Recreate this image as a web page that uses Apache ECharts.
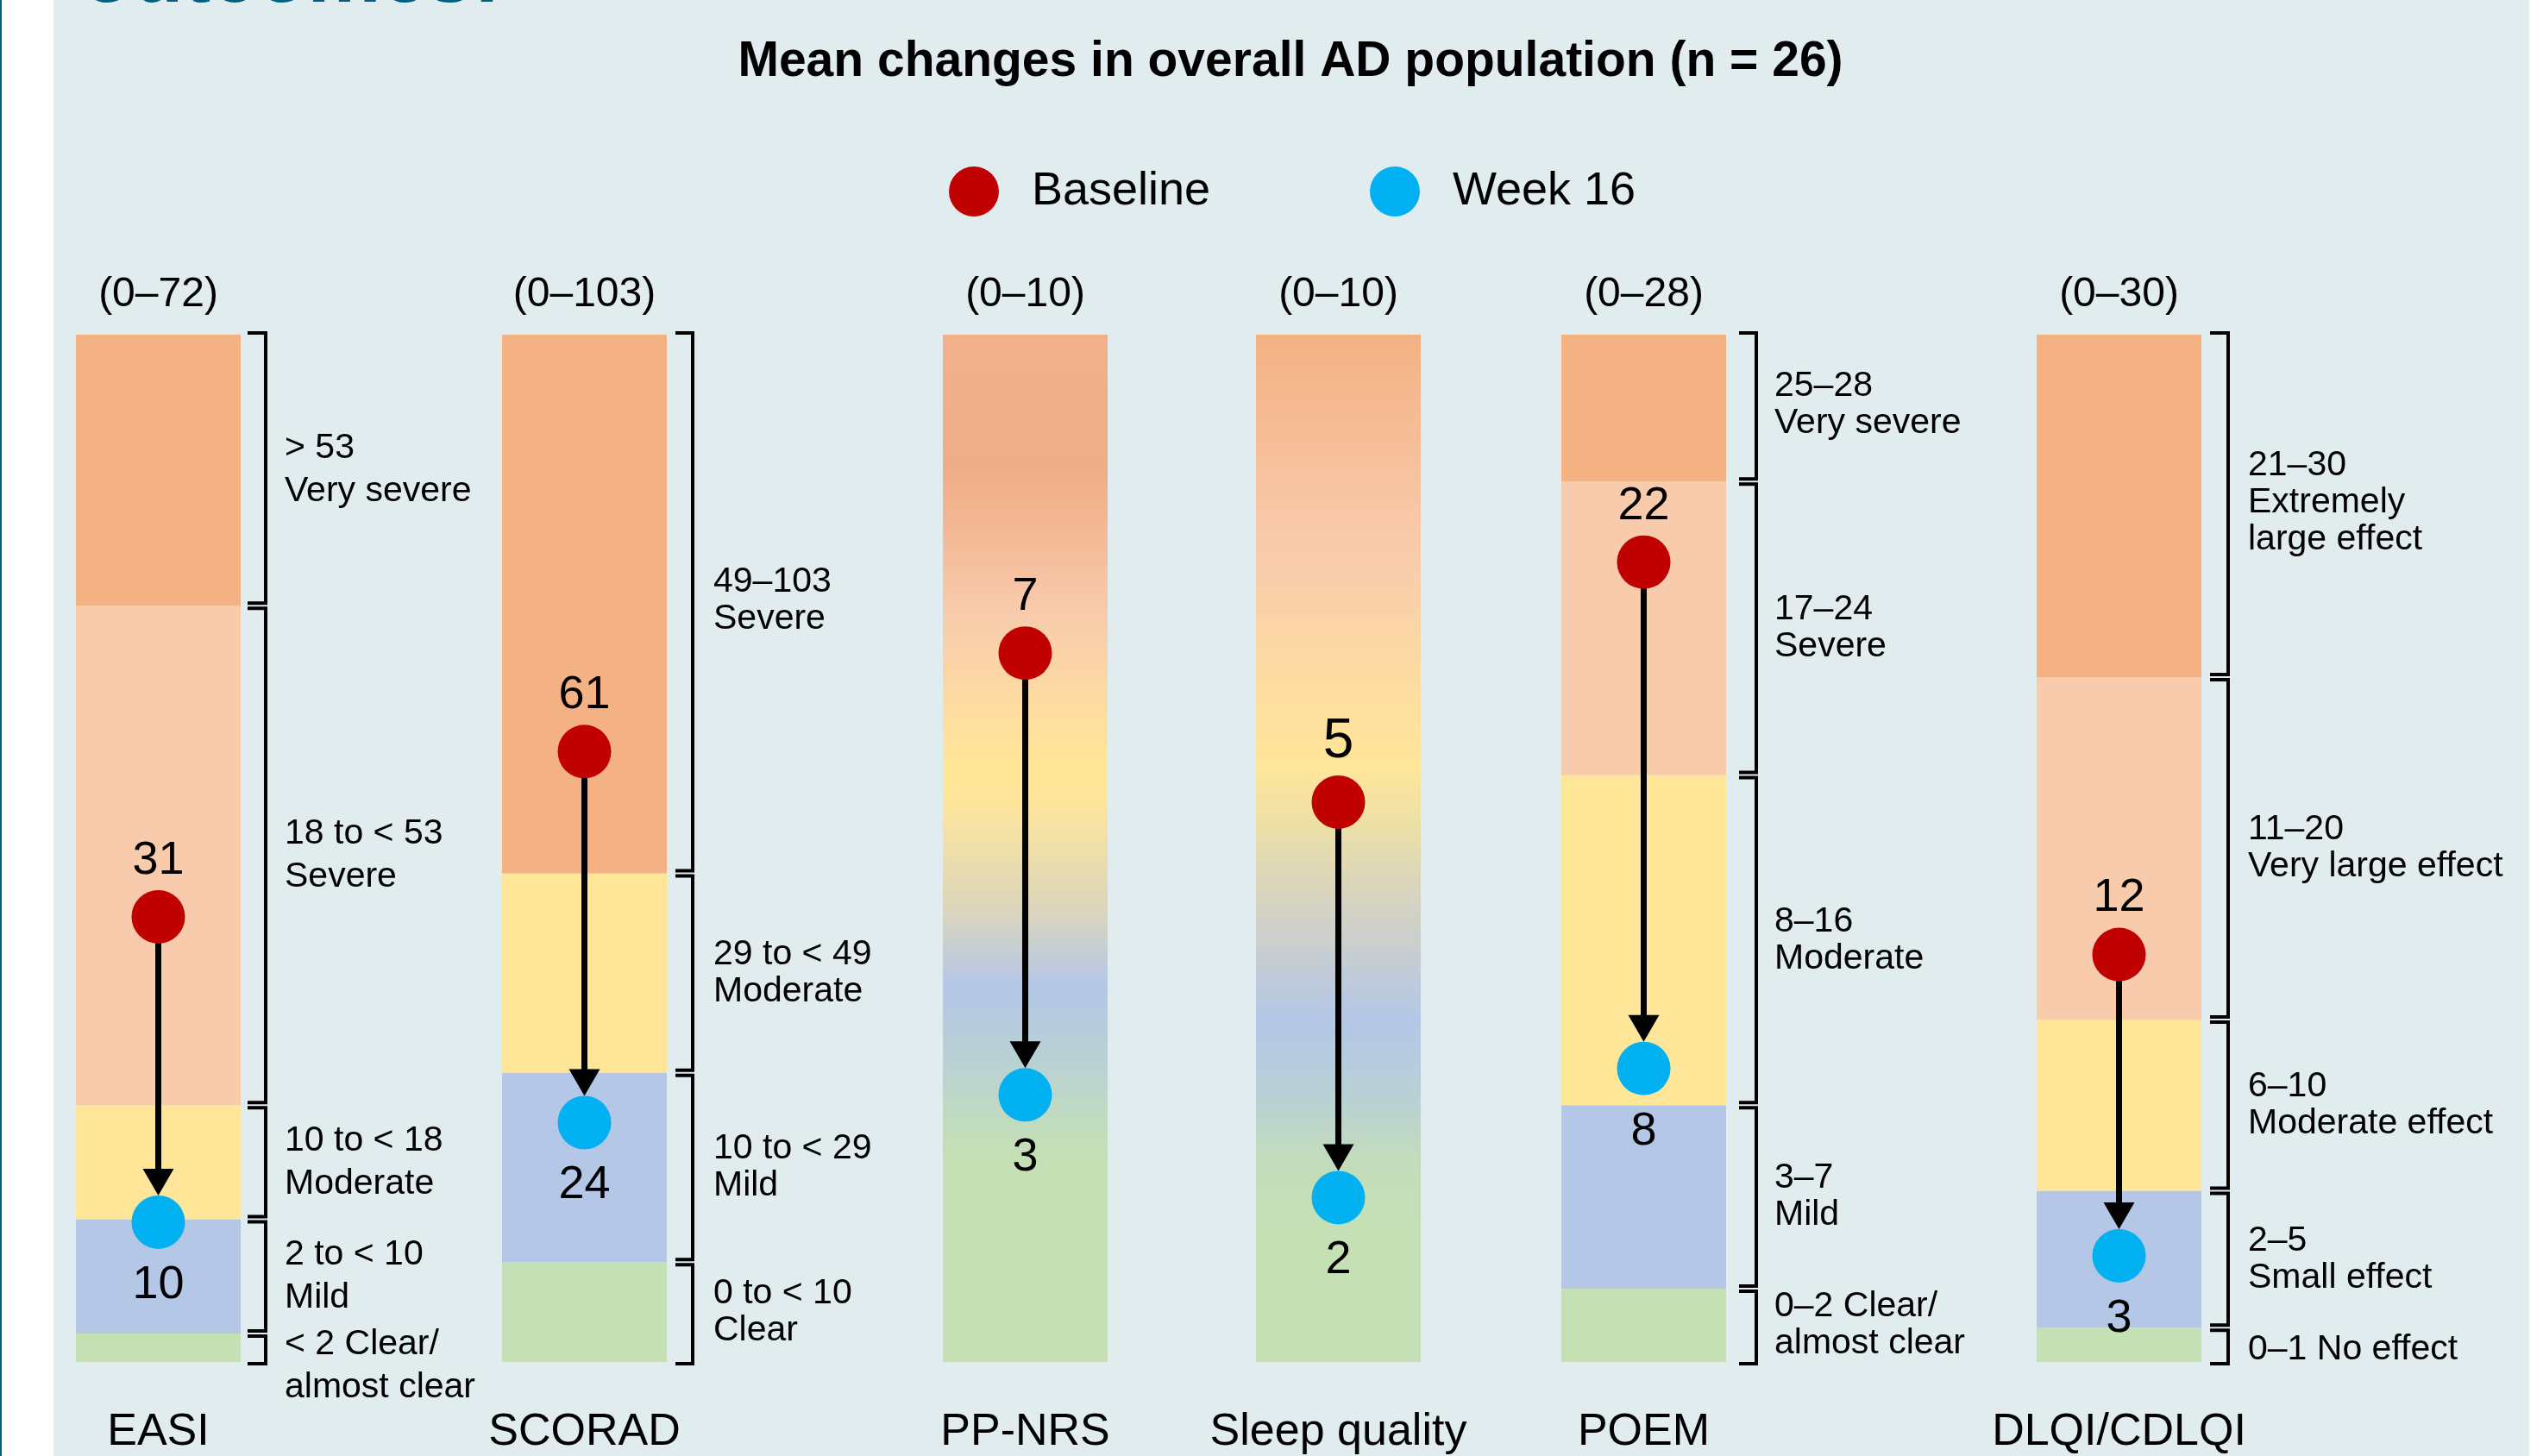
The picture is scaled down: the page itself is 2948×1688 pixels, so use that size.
<!DOCTYPE html>
<html>
<head>
<meta charset="utf-8">
<script src="https://cdn.jsdelivr.net/npm/echarts@6/dist/echarts.min.js"></script>
<style>html,body{margin:0;padding:0;background:#fff}#chart{width:2948px;height:1688px}</style>
</head>
<body>
<div id="chart"></div>
<script>
// ---------------- DATA ----------------
const titleText = 'Mean changes in overall AD population (n = 26)';
const legendNames = ['Baseline', 'Week 16'];
const categories = ['EASI', 'SCORAD', 'PP-NRS', 'Sleep quality', 'POEM', 'DLQI/CDLQI'];
const scaleMax = [72, 103, 10, 10, 28, 30];
const rangeLabels = ['(0–72)', '(0–103)', '(0–10)', '(0–10)', '(0–28)', '(0–30)'];
const baselineValues = [31.2, 61.2, 6.9, 5.45, 21.8, 11.9];
const week16Values = [9.8, 24.0, 2.6, 1.6, 8.0, 3.1];

const easiBands = [0, 2, 10, 18, 53, 72];
const scoradBands = [0, 10, 29, 49, 103];
const poemBands = [0, 2, 7, 16, 24, 28];
const dlqiBands = [0, 1, 5, 10, 20, 30];

const easiBandLabels = ['< 2 Clear/\nalmost clear', '2 to < 10\nMild', '10 to < 18\nModerate', '18 to < 53\nSevere', '> 53\nVery severe'];
const scoradBandLabels = ['0 to < 10\nClear', '10 to < 29\nMild', '29 to < 49\nModerate', '49–103\nSevere'];
const poemBandLabels = ['0–2 Clear/\nalmost clear', '3–7\nMild', '8–16\nModerate', '17–24\nSevere', '25–28\nVery severe'];
const dlqiBandLabels = ['0–1 No effect', '2–5\nSmall effect', '6–10\nModerate effect', '11–20\nVery large effect', '21–30\nExtremely\nlarge effect'];

const bandSets = [easiBands, scoradBands, null, null, poemBands, dlqiBands];
const bandLabelSets = [easiBandLabels, scoradBandLabels, null, null, poemBandLabels, dlqiBandLabels];

// ---------------- STYLE / LAYOUT ----------------
const FONT = '"Liberation Sans", Arial, Helvetica, sans-serif';
const BAND_COLORS = ['#c5e0b4', '#b4c7e7', '#ffe699', '#f8cbad', '#f4b183'];
const PP_GRAD = [
  {offset: 0, color: '#f2b08a'}, {offset: 0.13, color: '#efad87'}, {offset: 0.19, color: '#f3b894'},
  {offset: 0.27, color: '#f8cbad'}, {offset: 0.415, color: '#ffe699'}, {offset: 0.45, color: '#ffe699'},
  {offset: 0.557, color: '#dcd6bb'}, {offset: 0.635, color: '#b4c7e7'}, {offset: 0.70, color: '#b9d0d6'},
  {offset: 0.80, color: '#c5e0b4'}, {offset: 1, color: '#c5e0b4'}
];
const SLEEP_GRAD = [
  {offset: 0, color: '#f4b183'}, {offset: 0.21, color: '#f8cbad'}, {offset: 0.42, color: '#ffe699'},
  {offset: 0.48, color: '#ebdfa8'}, {offset: 0.557, color: '#d4d2c2'}, {offset: 0.667, color: '#b4c7e7'},
  {offset: 0.74, color: '#b9d0d6'}, {offset: 0.80, color: '#c2dcbc'}, {offset: 0.87, color: '#c5e0b4'},
  {offset: 1, color: '#c5e0b4'}
];
const GRID_TOP = 388, GRID_H = 1191, BAR_W = 191, MARKER = 62;
const COLS = [
  {left: 88,   levels: [0, 1, 2, 3, 4], tickDx: 8,  lineDx: 29, textDx: 51, lh: 50, baseSize: 54},
  {left: 582,  levels: [0, 1, 2, 4],    tickDx: 10, lineDx: 30, textDx: 54, lh: 43, baseSize: 54},
  {left: 1093, gradient: PP_GRAD, baseSize: 54},
  {left: 1456, gradient: SLEEP_GRAD, baseSize: 64},
  {left: 1810, levels: [0, 1, 2, 3, 4], tickDx: 15, lineDx: 35, textDx: 56, lh: 43, baseSize: 54},
  {left: 2361, levels: [0, 1, 2, 3, 4], tickDx: 10, lineDx: 31, textDx: 54, lh: 43, baseSize: 54}
];

function makeBandRenderer(i) {
  const c = COLS[i];
  return function (params, api) {
    const cs = params.coordSys;
    const lo = api.value(1), hi = api.value(2), k = api.value(3);
    const yTop = api.coord([0, hi])[1];
    const yBot = api.coord([0, lo])[1];
    const children = [];
    const fill = c.gradient ? new echarts.graphic.LinearGradient(0, 0, 0, 1, c.gradient) : BAND_COLORS[c.levels[k]];
    children.push({type: 'rect', shape: {x: cs.x, y: yTop, width: cs.width, height: yBot - yTop}, style: {fill: fill}});
    if (!c.gradient) {
      const n = bandSets[i].length - 1;
      const right = cs.x + cs.width;
      const t = k === n - 1 ? yTop - 2 : yTop + 3;
      const b = k === 0 ? yBot + 2 : yBot - 3;
      children.push({
        type: 'polyline',
        shape: {points: [[right + c.tickDx, t], [right + c.lineDx, t], [right + c.lineDx, b], [right + c.tickDx, b]]},
        style: {stroke: '#000', lineWidth: 4, fill: 'none', lineJoin: 'miter'}
      });
      const text = bandLabelSets[i][k];
      const nLines = text.split('\n').length;
      const h = nLines * c.lh;
      const bandH = yBot - yTop;
      let top;
      if (h > bandH) {
        top = Math.max((yTop + yBot) / 2 - h / 2, yTop - 12) + (nLines === 1 ? 6 : 0);
      } else {
        top = (yTop + yBot) / 2 - h / 2 - (k === n - 1 && c.lh < 50 ? 4 : 0);
      }
      children.push({
        type: 'text',
        style: {text: text, x: right + c.textDx, y: top + h / 2, fill: '#000', fontSize: 41, fontFamily: FONT,
                lineHeight: c.lh, align: 'left', verticalAlign: 'middle'}
      });
    }
    return {type: 'group', children: children};
  };
}

function arrowRenderer(params, api) {
  const p1 = api.coord([0, api.value(1)]);
  const p2 = api.coord([0, api.value(2)]);
  const tip = p2[1] - MARKER / 2;
  const headH = 31, headW = 36;
  return {type: 'group', children: [
    {type: 'line', shape: {x1: p1[0], y1: p1[1], x2: p2[0], y2: tip - headH + 1}, style: {stroke: '#000', lineWidth: 7}},
    {type: 'polygon', shape: {points: [[p2[0] - headW / 2, tip - headH], [p2[0] + headW / 2, tip - headH], [p2[0], tip]]}, style: {fill: '#000'}}
  ]};
}

const grid = [], xAxis = [], yAxis = [], series = [];
categories.forEach(function (cat, i) {
  const c = COLS[i];
  grid.push({left: c.left, top: GRID_TOP, width: BAR_W, height: GRID_H});
  xAxis.push({type: 'category', gridIndex: i, data: [cat], position: 'bottom',
    axisLine: {show: false}, axisTick: {show: false}, splitLine: {show: false},
    axisLabel: {fontSize: 52, lineHeight: 52, margin: 56, color: '#000', fontFamily: FONT}});
  xAxis.push({type: 'category', gridIndex: i, data: [rangeLabels[i]], position: 'top',
    axisLine: {show: false}, axisTick: {show: false}, splitLine: {show: false},
    axisLabel: {fontSize: 48, lineHeight: 48, margin: 22, color: '#000', fontFamily: FONT}});
  yAxis.push({type: 'value', gridIndex: i, min: 0, max: scaleMax[i], show: false});

  let bandData;
  if (bandSets[i]) {
    const b = bandSets[i];
    bandData = b.slice(0, -1).map(function (lo, k) { return [0, lo, b[k + 1], k]; });
  } else {
    bandData = [[0, 0, scaleMax[i], -1]];
  }
  series.push({type: 'custom', name: 'bands' + i, xAxisIndex: 2 * i, yAxisIndex: i, clip: false, silent: true, z: 1,
    encode: {x: 0, y: [1, 2]}, data: bandData, renderItem: makeBandRenderer(i)});
  series.push({type: 'custom', name: 'arrow' + i, xAxisIndex: 2 * i, yAxisIndex: i, clip: false, silent: true, z: 2,
    encode: {x: 0, y: [1, 2]}, data: [[0, baselineValues[i], week16Values[i]]], renderItem: arrowRenderer});
  series.push({type: 'scatter', name: legendNames[0], xAxisIndex: 2 * i, yAxisIndex: i, z: 3, silent: true,
    data: [[0, baselineValues[i]]], symbolSize: MARKER, itemStyle: {color: '#c00000', opacity: 1},
    label: {show: true, position: 'top', distance: 7, color: '#000', fontSize: c.baseSize, lineHeight: c.baseSize,
      fontFamily: FONT, formatter: function (p) { return String(Math.round(p.value[1])); }}});
  series.push({type: 'scatter', name: legendNames[1], xAxisIndex: 2 * i, yAxisIndex: i, z: 3, silent: true,
    data: [[0, week16Values[i]]], symbolSize: MARKER, itemStyle: {color: '#00b0f0', opacity: 1},
    label: {show: true, position: 'bottom', distance: 15, color: '#000', fontSize: 54, lineHeight: 54,
      fontFamily: FONT, formatter: function (p) { return String(Math.round(p.value[1])); }}});
});

const legendCommon = {icon: 'circle', itemWidth: 58, itemHeight: 58, top: 193, selectedMode: false, padding: 0,
  textStyle: {fontSize: 54, color: '#000', fontFamily: FONT, padding: [0, 0, 0, 33]}};

const option = {
  animation: false,
  backgroundColor: '#e1ecee',
  textStyle: {fontFamily: FONT},
  title: {text: titleText, left: 1496, top: 72, padding: 0, textAlign: 'center', textVerticalAlign: 'middle',
    textStyle: {fontSize: 57, fontWeight: 'bold', color: '#000', fontFamily: FONT}},
  legend: [
    Object.assign({}, legendCommon, {data: [legendNames[0]], left: 1100}),
    Object.assign({}, legendCommon, {data: [legendNames[1]], left: 1588})
  ],
  graphic: [
    {type: 'rect', left: 0, top: 0, shape: {x: 0, y: 0, width: 62, height: 1688}, style: {fill: '#ffffff'}},
    {type: 'rect', right: 0, top: 0, shape: {x: 0, y: 0, width: 16, height: 1688}, style: {fill: '#ffffff'}},
    {type: 'rect', left: 0, top: 0, shape: {x: 0, y: 0, width: 2, height: 1688}, style: {fill: '#005f80'}},
    {type: 'text', x: 95, y: -24, style: {text: 'outcomes:', fill: '#005f80', fontSize: 96, fontWeight: 'bold',
      fontFamily: FONT, verticalAlign: 'middle', align: 'left'}}
  ],
  grid: grid,
  xAxis: xAxis,
  yAxis: yAxis,
  series: series
};

const chart = echarts.init(document.getElementById('chart'), null, {renderer: 'canvas', width: 2948, height: 1688});
chart.setOption(option);
</script>
</body>
</html>
